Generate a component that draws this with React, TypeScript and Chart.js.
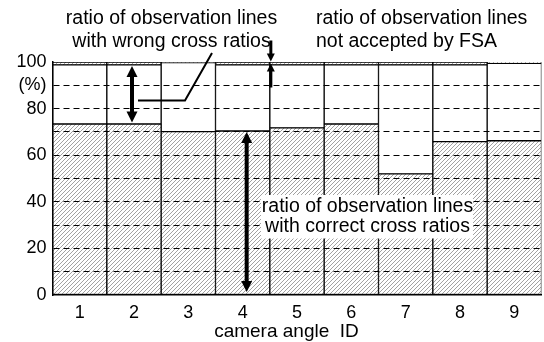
import React, { useEffect, useRef } from "react";
import { Chart, registerables } from "chart.js";

Chart.register(...registerables);

const categories = ["1", "2", "3", "4", "5", "6", "7", "8", "9"];
const correctRatio = [73.4, 73.4, 70.1, 70.4, 71.7, 73.4, 52.0, 65.8, 66.2];
const wrongRatio = [25.4, 25.4, 29.6, 28.4, 27.1, 25.4, 46.8, 33.0, 33.2];
const notAcceptedRatio = [1.2, 1.2, 0.3, 1.2, 1.2, 1.2, 1.2, 1.2, 0.6];
const yTickLabels: Record<number, string> = { 0: "0", 20: "20", 40: "40", 60: "60", 80: "80", 90: "(%)", 100: "100" };
const xTitle = "camera angle  ID";
const noteWrong = ["ratio of observation lines", "with wrong cross ratios"];
const noteFsa = ["ratio of observation lines", "not accepted by FSA"];
const noteCorrect = ["ratio of observation lines", "with correct cross ratios"];

const FONT = '"Liberation Sans", Arial, Helvetica, sans-serif';

function makeHatch(): CanvasPattern | string {
  const s = 4;
  const c = document.createElement("canvas");
  c.width = s;
  c.height = s;
  const g = c.getContext("2d");
  if (!g) return "#ccc";
  g.fillStyle = "#fff";
  g.fillRect(0, 0, s, s);
  g.strokeStyle = "#8a8a8a";
  g.lineWidth = 0.8;
  g.beginPath();
  g.moveTo(0, s);
  g.lineTo(s, 0);
  g.moveTo(-1, 1);
  g.lineTo(1, -1);
  g.moveTo(s - 1, s + 1);
  g.lineTo(s + 1, s - 1);
  g.stroke();
  const p = g.createPattern(c, "repeat");
  return p || "#ccc";
}

function head(ctx: CanvasRenderingContext2D, x: number, tipY: number, dir: number, w: number, len: number) {
  ctx.beginPath();
  ctx.moveTo(x, tipY);
  ctx.lineTo(x - w / 2, tipY - dir * len);
  ctx.lineTo(x + w / 2, tipY - dir * len);
  ctx.closePath();
  ctx.fill();
}

function doubleArrow(ctx: CanvasRenderingContext2D, x: number, yTop: number, yBot: number, lw: number, hw: number, hl: number) {
  ctx.lineWidth = lw;
  ctx.beginPath();
  ctx.moveTo(x, yTop + hl - 1);
  ctx.lineTo(x, yBot - hl + 1);
  ctx.stroke();
  head(ctx, x, yTop, -1, hw, hl);
  head(ctx, x, yBot, 1, hw, hl);
}

const annotations = {
  id: "annotations",
  afterDraw(chart: any) {
    const ctx: CanvasRenderingContext2D = chart.ctx;
    const xs = chart.scales.x;
    const ys = chart.scales.y;
    const bw = xs.getPixelForValue(1) - xs.getPixelForValue(0);
    const top = ys.getPixelForValue(100);
    ctx.save();
    ctx.setLineDash([]);
    ctx.fillStyle = "#000";
    ctx.strokeStyle = "#000";
    ctx.font = `19.5px ${FONT}`;
    ctx.textBaseline = "middle";

    // wrong cross ratio note
    ctx.textAlign = "center";
    ctx.fillText(noteWrong[0], 171.5, 18.5);
    ctx.fillText(noteWrong[1], 171.5, 41.5);
    const x2 = xs.getPixelForValue(1) - 2;
    doubleArrow(ctx, x2, top + 4, ys.getPixelForValue(correctRatio[1]) - 1.5, 4, 11, 11);
    ctx.lineWidth = 2;
    ctx.beginPath();
    ctx.moveTo(x2 + 6, 100.5);
    ctx.lineTo(185, 100.5);
    ctx.lineTo(212, 53);
    ctx.stroke();

    // FSA note
    ctx.textAlign = "left";
    ctx.fillText(noteFsa[0], 316, 18.5);
    ctx.fillText(noteFsa[1], 316, 41.5);
    const xf = xs.getPixelForValue(4) - bw / 2 + 1;
    ctx.lineWidth = 3;
    ctx.beginPath();
    ctx.moveTo(xf, 40.5);
    ctx.lineTo(xf, top - 6);
    ctx.stroke();
    head(ctx, xf, top - 0.5, 1, 8, 8);
    ctx.beginPath();
    ctx.moveTo(xf, top + 7);
    ctx.lineTo(xf, 87.5);
    ctx.stroke();
    head(ctx, xf, top + 1.5, -1, 8, 8);

    // correct cross ratio note
    const x4 = xs.getPixelForValue(3) + 4;
    doubleArrow(ctx, x4, ys.getPixelForValue(correctRatio[3]) + 1, ys.getPixelForValue(0) - 3, 4, 11, 11);
    ctx.fillStyle = "#fff";
    ctx.fillRect(261, 195, 212, 43.5);
    ctx.fillStyle = "#000";
    ctx.textAlign = "center";
    ctx.fillText(noteCorrect[0], 367.5, 207);
    ctx.fillText(noteCorrect[1], 367.5, 227);

    // x axis title
    ctx.font = `19px ${FONT}`;
    ctx.fillText(xTitle, 286.5, 331.5);
    ctx.restore();
  },
};

export default function App() {
  const ref = useRef<HTMLCanvasElement | null>(null);
  useEffect(() => {
    document.body.style.margin = "0";
    const el = ref.current;
    if (!el) return;
    const hatch = makeHatch();
    const common = {
      borderColor: "#000",
      borderWidth: 1,
      borderSkipped: false as const,
      barPercentage: 1,
      categoryPercentage: 1,
    };
    const chart = new Chart(el, {
      type: "bar",
      data: {
        labels: categories,
        datasets: [
          { label: "correct", data: correctRatio, backgroundColor: hatch as any, ...common },
          { label: "wrong", data: wrongRatio, backgroundColor: "#fff", ...common },
          { label: "not accepted", data: notAcceptedRatio, backgroundColor: hatch as any, ...common },
        ],
      },
      options: {
        responsive: false,
        animation: false,
        layout: { padding: { top: 62, right: 2.5, left: 0, bottom: 0 } },
        plugins: { legend: { display: false }, tooltip: { enabled: false }, title: { display: false } },
        scales: {
          x: {
            stacked: true,
            grid: { display: false, drawTicks: false },
            border: { display: true, color: "#000", width: 1.5, z: 2 },
            ticks: { color: "#000", font: { family: FONT, size: 18 }, padding: 7 },
            afterFit: (s: any) => {
              s.height = 47;
            },
          },
          y: {
            stacked: true,
            min: 0,
            max: 100,
            grid: {
              z: 1,
              drawTicks: false,
              color: (c: any) => (c.tick && (c.tick.value === 0 || c.tick.value === 100) ? "rgba(0,0,0,0)" : "#000"),
              lineWidth: 1,
            },
            border: { display: true, color: "#000", width: 1.5, dash: [6, 4], z: 2 },
            ticks: {
              stepSize: 10,
              autoSkip: false,
              color: "#000",
              font: { family: FONT, size: 18 },
              padding: 6,
              callback: (v: any) => yTickLabels[Number(v)] ?? "",
            },
            afterFit: (s: any) => {
              s.width = 52.5;
            },
          },
        },
      },
      plugins: [annotations],
    } as any);
    return () => chart.destroy();
  }, []);
  return <canvas ref={ref} width={544} height={342} style={{ display: "block" }} />;
}
